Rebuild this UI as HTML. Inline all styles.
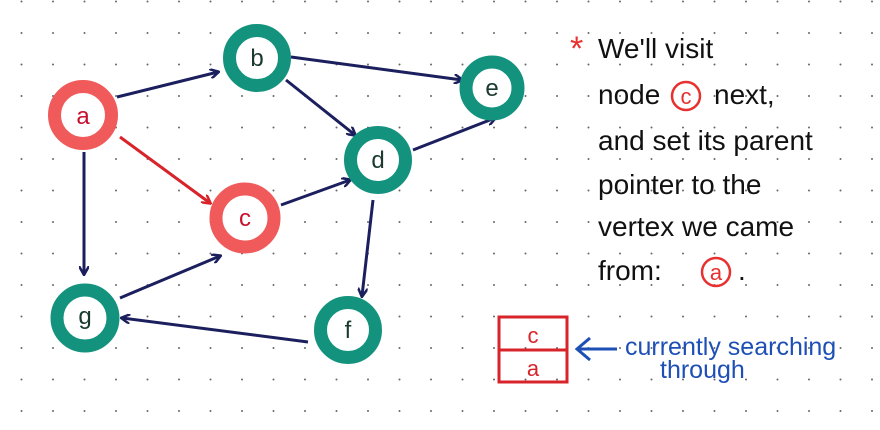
<!DOCTYPE html>
<html><head><style>
html,body{margin:0;padding:0;background:#fff;}
svg{display:block;}
text{font-family:"Liberation Sans",sans-serif;}
</style></head><body>
<svg width="880" height="430" viewBox="0 0 880 430" xmlns="http://www.w3.org/2000/svg">
<defs>
<pattern id="dots" x="20.5" y="0.5" width="31.5" height="31.5" patternUnits="userSpaceOnUse">
<circle cx="1" cy="1" r="1" fill="#666"/>
</pattern>
<marker id="an" markerWidth="10" markerHeight="10" refX="8" refY="5" orient="auto" markerUnits="userSpaceOnUse"><path d="M0,0 L9,5 L0,10" fill="none" stroke="#1c1f5e" stroke-width="2.5"/></marker>
<marker id="ar" markerWidth="10" markerHeight="10" refX="8" refY="5" orient="auto" markerUnits="userSpaceOnUse"><path d="M0,0 L9,5 L0,10" fill="none" stroke="#d8232a" stroke-width="2.5"/></marker>
</defs>
<rect x="0" y="32" width="880" height="398" fill="url(#dots)"/>
<rect width="880" height="32" fill="url(#dots)"/>

<g stroke="#1c1f5e" stroke-width="3" fill="none" marker-end="url(#an)">
<line x1="117" y1="97" x2="218" y2="72"/>
<line x1="291" y1="57" x2="462" y2="80"/>
<line x1="286" y1="80" x2="355" y2="135"/>
<line x1="413" y1="150" x2="495" y2="118"/>
<line x1="281" y1="205" x2="350" y2="180"/>
<line x1="84" y1="152" x2="84" y2="274"/>
<line x1="120" y1="298" x2="220" y2="256"/>
<line x1="373" y1="200" x2="362" y2="296"/>
<line x1="308" y1="342" x2="122" y2="318"/>
</g>
<line x1="120" y1="137" x2="210" y2="203" stroke="#d8232a" stroke-width="3" marker-end="url(#ar)"/>

<g stroke-width="13" fill="#fff">
<circle cx="83" cy="115" r="28.5" stroke="#f15a5a"/>
<circle cx="257" cy="58" r="27.5" stroke="#13937d"/>
<circle cx="492" cy="88" r="26" stroke="#13937d"/>
<circle cx="378" cy="160" r="27.5" stroke="#13937d"/>
<circle cx="245" cy="218" r="29" stroke="#f15a5a"/>
<circle cx="85" cy="318" r="28" stroke="#13937d"/>
<circle cx="348" cy="330" r="27.5" stroke="#13937d"/>
</g>
<g font-size="24" text-anchor="middle">
<text x="83" y="124" fill="#c8102e">a</text>
<text x="257" y="66" fill="#1a3a2e">b</text>
<text x="492" y="96" fill="#1a3a2e">e</text>
<text x="378" y="168" fill="#1a3a2e">d</text>
<text x="245" y="226" fill="#c8102e">c</text>
<text x="85" y="324" fill="#1a3a2e">g</text>
<text x="348" y="338" fill="#1a3a2e">f</text>
</g>

<text x="570" y="60" font-size="34" fill="#e8312f">*</text>
<g font-size="28" fill="#111">
<text x="598" y="58">We'll visit</text>
<text x="598" y="104">node</text>
<text x="714" y="104">next,</text>
<text x="598" y="150">and set its parent</text>
<text x="598" y="194">pointer to the</text>
<text x="598" y="236">vertex we came</text>
<text x="598" y="280">from:</text>
<text x="738" y="280">.</text>
</g>
<circle cx="686" cy="96" r="14" fill="none" stroke="#e8312f" stroke-width="2.5"/>
<text x="686" y="104" font-size="22" fill="#e8312f" text-anchor="middle">c</text>
<circle cx="716" cy="272" r="14" fill="none" stroke="#e8312f" stroke-width="2.5"/>
<text x="716" y="280" font-size="22" fill="#e8312f" text-anchor="middle">a</text>

<g stroke="#d8232a" stroke-width="3" fill="none">
<rect x="499" y="317" width="68" height="65"/>
<line x1="499" y1="350" x2="567" y2="350"/>
</g>
<text x="533" y="343" font-size="22" fill="#d8232a" text-anchor="middle">c</text>
<text x="533" y="376" font-size="22" fill="#d8232a" text-anchor="middle">a</text>
<line x1="617" y1="349" x2="578" y2="349" stroke="#1d4fb5" stroke-width="3"/>
<path d="M590,338 L577,349 L590,360" fill="none" stroke="#1d4fb5" stroke-width="3"/>
<text x="625" y="355" font-size="25" fill="#1d4fb5">currently searching</text>
<text x="660" y="378" font-size="25" fill="#1d4fb5">through</text>
</svg>
</body></html>
